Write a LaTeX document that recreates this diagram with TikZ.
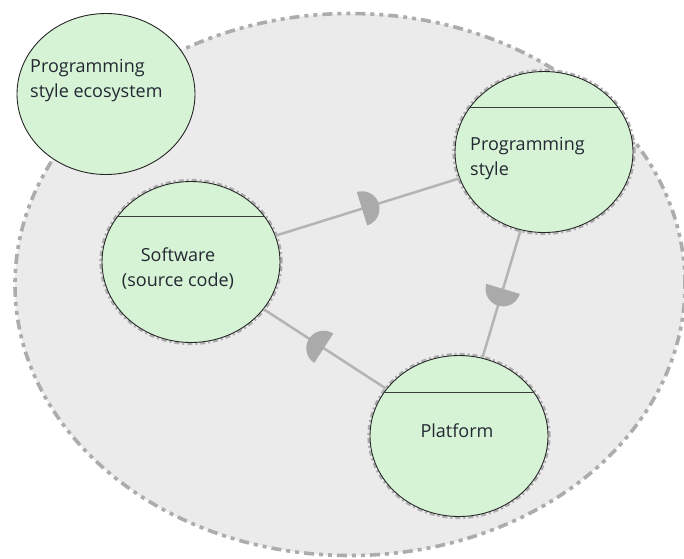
\documentclass[tikz,border=0pt]{standalone}
\usepackage{fontspec}
\setmainfont{Open Sans}
\usetikzlibrary{shapes.geometric,decorations.markings}
\definecolor{bgfill}{RGB}{235,235,235}
\definecolor{bgline}{RGB}{172,172,172}
\definecolor{greenfill}{RGB}{215,243,214}
\definecolor{conn}{RGB}{180,180,180}
\definecolor{sock}{RGB}{170,170,170}
\definecolor{txt}{RGB}{35,40,50}
\definecolor{chord}{RGB}{60,60,60}
\tikzset{
  comp/.style={ellipse, draw=black!85, line width=0.9pt, fill=greenfill,
    minimum width=178pt, minimum height=161pt, inner sep=0pt},
  halo/.style={draw=bgline, line width=2.2pt, dash pattern=on 5pt off 3pt on 2pt off 3pt},
  lbl/.style={font=\fontsize{18}{25}\selectfont, text=txt, inner sep=0pt},
  wire/.style={draw=conn, line width=2.5pt},
  sockfwd/.style={postaction=decorate, decoration={markings, mark=at position #1 with
    {\fill[sock] (0pt,-17.5pt) arc[start angle=-90,end angle=90,radius=17.5pt] -- cycle;}}},
  sockbwd/.style={postaction=decorate, decoration={markings, mark=at position #1 with
    {\fill[sock] (0pt,17.5pt) arc[start angle=90,end angle=270,radius=17.5pt] -- cycle;}}},
}
\begin{document}
\begin{tikzpicture}[x=1pt,y=-1pt]
\useasboundingbox (0,0) rectangle (684,558);
% ecosystem background
\fill[bgfill] (350,284.5) ellipse [x radius=335pt, y radius=271pt];
\draw[draw=bgline, line width=3.6pt, dash pattern=on 10pt off 5pt on 4pt off 5pt on 4pt off 5pt]
  (350,284.5) ellipse [x radius=335pt, y radius=271pt];

% components
\node[comp] (eco) at (106,94) {};
\draw[halo] (544,152) ellipse [x radius=90.5pt, y radius=82pt];
\node[comp] (ps) at (544,152) {};
\draw[halo] (191,262) ellipse [x radius=90.5pt, y radius=82pt];
\node[comp] (sw) at (191,262) {};
\draw[halo] (459,436) ellipse [x radius=90.5pt, y radius=82pt];
\node[comp] (pf) at (459,436) {};

% dividers
\begin{scope}\clip (ps.center) ellipse [x radius=89pt, y radius=80.5pt];
  \draw[chord, line width=1pt] (440,107) -- (650,107);\end{scope}
\begin{scope}\clip (sw.center) ellipse [x radius=89pt, y radius=80.5pt];
  \draw[chord, line width=1pt] (90,216) -- (300,216);\end{scope}
\begin{scope}\clip (pf.center) ellipse [x radius=89pt, y radius=80.5pt];
  \draw[chord, line width=1pt] (360,392) -- (560,392);\end{scope}

% labels
\node[lbl, anchor=north west, align=left] (ecoT) at (30,59) {Programming\\style ecosystem};
\node[lbl, anchor=north west, align=left] (psT) at (470,137) {Programming\\style};
\node[lbl, anchor=north, align=center] (swT) at (178,248) {Software\\(source code)};
\node[lbl, anchor=base] (pfT) at (457,437) {Platform};

% connectors
\draw[wire, sockfwd=0.47] (sw) -- (ps);
\draw[wire, sockbwd=0.49] (sw) -- (pf);
\draw[wire, sockfwd=0.46] (ps) -- (pf);
\end{tikzpicture}
\end{document}
